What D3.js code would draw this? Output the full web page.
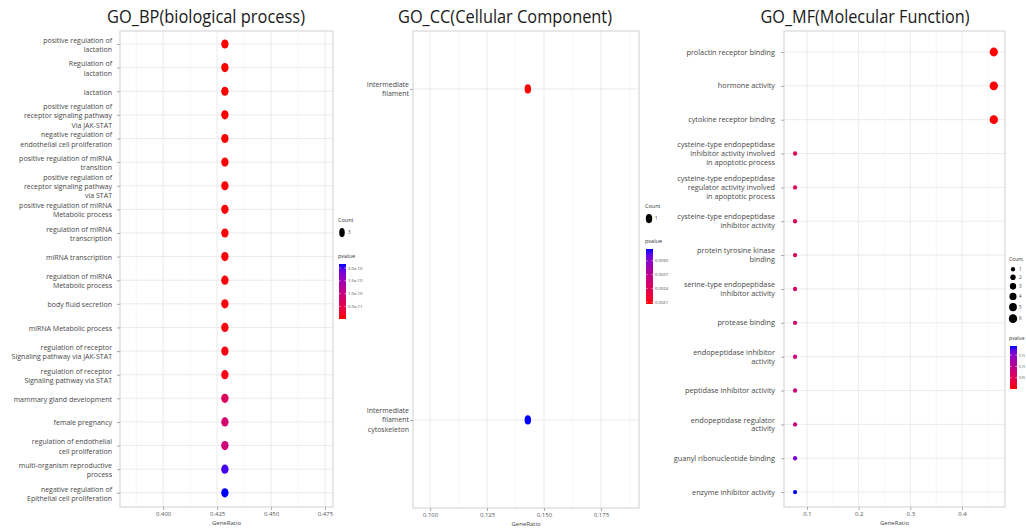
<!DOCTYPE html>
<html>
<head>
<meta charset="utf-8">
<script src="https://cdn.jsdelivr.net/npm/d3@7"></script>
<style>
  html, body { margin: 0; padding: 0; background: #fff; }
  svg { display: block; }
</style>
</head>
<body>
<svg id="chart" width="1026" height="528"></svg>
<script>
// ---------- GO enrichment data ----------
// Biological process
const bpTerms = [
  "positive regulation of\nlactation",
  "Regulation of\nlactation",
  "lactation",
  "positive regulation of\nreceptor signaling pathway\nVia JAK-STAT",
  "negative regulation of\nendothelial cell proliferation",
  "positive regulation of miRNA\ntransition",
  "positive regulation of\nreceptor signaling pathway\nvia STAT",
  "positive regulation of miRNA\nMetabolic process",
  "regulation of miRNA\ntranscription",
  "miRNA transcription",
  "regulation of miRNA\nMetabolic process",
  "body fluid secretion",
  "miRNA Metabolic process",
  "regulation of receptor\nSignaling pathway via JAK-STAT",
  "regulation of receptor\nSignaling pathway via STAT",
  "mammary gland development",
  "female pregnancy",
  "regulation of endothelial\ncell proliferation",
  "multi-organism reproductive\nprocess",
  "negative regulation of\nEpithelial cell proliferation"
];
const bpRatio = [0.4286, 0.4286, 0.4286, 0.4286, 0.4286, 0.4286, 0.4286, 0.4286, 0.4286, 0.4286,
                 0.4286, 0.4286, 0.4286, 0.4286, 0.4286, 0.4286, 0.4286, 0.4286, 0.4286, 0.4286];
const bpCount = [3, 3, 3, 3, 3, 3, 3, 3, 3, 3, 3, 3, 3, 3, 3, 3, 3, 3, 3, 3];
const bpP = [1.0e-12, 1.0e-12, 1.2e-12, 1.8e-12, 2.1e-12, 2.5e-12, 2.9e-12, 3.1e-12, 3.4e-12, 3.9e-12,
             4.4e-12, 5.2e-12, 6.8e-12, 8.5e-12, 9.7e-12, 6.8e-11, 8.4e-11, 9.2e-11, 2.05e-10, 2.16e-10];
const bpXTicks = [0.400, 0.425, 0.450, 0.475];
const bpXMinor = [0.3875, 0.4125, 0.4375, 0.4625];
const bpPTicks = [5e-11, 1e-10, 1.5e-10, 2e-10];
const bpPLabels = ["5.0e-11", "1.0e-10", "1.5e-10", "2.0e-10"];
const bpCountLegend = [3];

// Cellular component
const ccTerms = [
  "Intermediate\nfilament",
  "Intermediate\nfilament\ncytoskeleton"
];
const ccRatio = [0.1429, 0.1429];
const ccCount = [1, 1];
const ccP = [0.00206, 0.00326];
const ccXTicks = [0.100, 0.125, 0.150, 0.175];
const ccXMinor = [0.1125, 0.1375, 0.1625, 0.1875];
const ccPTicks = [0.0021, 0.0024, 0.0027, 0.0030];
const ccPLabels = ["0.0021", "0.0024", "0.0027", "0.0030"];
const ccCountLegend = [1];

// Molecular function
const mfTerms = [
  "prolactin receptor binding",
  "hormone activity",
  "cytokine receptor binding",
  "cysteine-type endopeptidase\ninhibitor activity involved\nin apoptotic process",
  "cysteine-type endopeptidase\nregulator activity involved\nin apoptotic process",
  "cysteine-type endopeptidase\ninhibitor activity",
  "protein tyrosine kinase\nbinding",
  "serine-type endopeptidase\nInhibitor activity",
  "protease binding",
  "endopeptidase inhibitor\nactivity",
  "peptidase inhibitor activity",
  "endopeptidase regulator\nactivity",
  "guanyl ribonucleotide binding",
  "enzyme inhibitor activity"
];
const mfRatio = [0.4615, 0.4615, 0.4615, 0.0769, 0.0769, 0.0769, 0.0769,
                 0.0769, 0.0769, 0.0769, 0.0769, 0.0769, 0.0769, 0.0769];
const mfCount = [6, 6, 6, 1, 1, 1, 1, 1, 1, 1, 1, 1, 1, 1];
const mfP = [0.0005, 0.0008, 0.0012, 0.052, 0.054, 0.055, 0.058,
             0.066, 0.075, 0.078, 0.082, 0.088, 0.160, 0.190];
const mfXTicks = [0.1, 0.2, 0.3, 0.4];
const mfXMinor = [0.15, 0.25, 0.35, 0.45];
const mfPTicks = [0.05, 0.10, 0.15];
const mfPLabels = ["0.05", "0.10", "0.15"];
const mfCountLegend = [1, 2, 3, 4, 5, 6];

// ---------- drawing ----------
const FONT = "'Open Sans', 'Noto Sans', 'DejaVu Sans', sans-serif";
const svg = d3.select("#chart");
const defs = svg.append("defs");

function drawPanel(cfg) {
  const g = svg.append("g");
  const { x0, x1, y0, y1 } = cfg.box;
  const n = cfg.terms.length;

  const x = d3.scaleLinear().domain(cfg.xDomain).range([x0, x1]);
  const y = d3.scaleLinear().domain([-cfg.pad[0], n - 1 + cfg.pad[1]]).range([y0, y1]);
  const pExtent = d3.extent(cfg.p);
  const color = d3.scaleLinear().domain(pExtent).range(["#ff0000", "#0000ff"]).interpolate(d3.interpolateLab);
  const cExtent = d3.extent(cfg.countDomain);
  const r = d3.scaleSqrt().domain(cExtent).range(cfg.rRange);

  // panel background and grid
  g.append("rect").attr("x", x0).attr("y", y0).attr("width", x1 - x0).attr("height", y1 - y0).attr("fill", "#fff");
  g.selectAll(".minor").data(cfg.xMinor).join("line")
    .attr("x1", d => x(d)).attr("x2", d => x(d)).attr("y1", y0).attr("y2", y1)
    .attr("stroke", "#f5f5f5").attr("stroke-width", 0.8);
  g.selectAll(".major").data(cfg.xTicks).join("line")
    .attr("x1", d => x(d)).attr("x2", d => x(d)).attr("y1", y0).attr("y2", y1)
    .attr("stroke", "#ebebeb").attr("stroke-width", 1);
  g.selectAll(".hgrid").data(d3.range(n)).join("line")
    .attr("x1", x0).attr("x2", x1).attr("y1", d => y(d)).attr("y2", d => y(d))
    .attr("stroke", "#ebebeb").attr("stroke-width", 1);
  g.append("rect").attr("x", x0).attr("y", y0).attr("width", x1 - x0).attr("height", y1 - y0)
    .attr("fill", "none").attr("stroke", "#cfcfcf").attr("stroke-width", 1);

  // x axis
  const xAxis = g.append("g").attr("transform", `translate(0,${y1})`)
    .call(d3.axisBottom(x).tickValues(cfg.xTicks).tickFormat(d3.format(cfg.xFormat)).tickSize(3).tickPadding(2));
  xAxis.select(".domain").remove();
  xAxis.selectAll(".tick line").attr("stroke", "#aaa");
  xAxis.selectAll(".tick text").attr("fill", "#555").attr("font-family", FONT).attr("font-size", 6);
  g.append("text").attr("x", (x0 + x1) / 2).attr("y", y1 + 18)
    .attr("text-anchor", "middle").attr("font-family", FONT).attr("font-size", 6).attr("fill", "#444")
    .text("GeneRatio");

  // y axis ticks
  const yAxis = g.append("g").attr("transform", `translate(${x0},0)`)
    .call(d3.axisLeft(y).tickValues(d3.range(n)).tickFormat("").tickSize(3));
  yAxis.select(".domain").remove();
  yAxis.selectAll(".tick line").attr("stroke", "#aaa");

  // multi-line term labels
  const labels = g.selectAll(".term").data(cfg.terms).join("text")
    .attr("text-anchor", "end").attr("font-family", FONT).attr("font-size", cfg.labelSize)
    .attr("fill", "#474747");
  labels.each(function (t, i) {
    const lines = t.split("\n");
    const cy = y(i) + cfg.labelShift;
    d3.select(this).selectAll("tspan").data(lines).join("tspan")
      .attr("x", cfg.labelX)
      .attr("y", (d, k) => cy + (k - (lines.length - 1) / 2) * cfg.lineH + cfg.labelSize * 0.35)
      .text(d => d);
  });

  // dots
  g.selectAll(".dot").data(cfg.terms.map((t, i) => i)).join("ellipse")
    .attr("cx", i => x(cfg.ratio[i])).attr("cy", i => y(i))
    .attr("rx", i => r(cfg.count[i]) * cfg.aspect[0])
    .attr("ry", i => r(cfg.count[i]) * cfg.aspect[1])
    .attr("fill", i => color(cfg.p[i]));

  // title
  g.append("text").attr("x", cfg.titleX).attr("y", 23).attr("text-anchor", "middle")
    .attr("font-family", FONT).attr("font-size", 18).attr("fill", "#1a1a1a")
    .attr("textLength", cfg.titleW).attr("lengthAdjust", "spacingAndGlyphs")
    .text(cfg.title);

  // legend: Count
  const L = cfg.legend;
  g.append("text").attr("x", L.x).attr("y", L.countY).attr("font-family", FONT)
    .attr("font-size", L.titleSize).attr("fill", "#333").text("Count");
  let cy = L.countY + 4;
  cfg.countLegend.forEach((c, k) => {
    const ry = r(c) * L.aspect[1];
    cy += (k === 0 ? ry + 2 : ry + r(cfg.countLegend[k - 1]) * L.aspect[1] + 3);
    g.append("ellipse").attr("cx", L.x + 4).attr("cy", cy)
      .attr("rx", r(c) * L.aspect[0]).attr("ry", ry).attr("fill", "#000");
    g.append("text").attr("x", L.x + 10).attr("y", cy + 1.6).attr("font-family", FONT)
      .attr("font-size", 4.5).attr("fill", "#444").text(c);
  });

  // legend: pvalue colour bar
  g.append("text").attr("x", L.x).attr("y", L.pY).attr("font-family", FONT)
    .attr("font-size", L.titleSize).attr("fill", "#333").text("pvalue");
  const gradId = "grad-" + cfg.id;
  const grad = defs.append("linearGradient").attr("id", gradId)
    .attr("x1", 0).attr("y1", 1).attr("x2", 0).attr("y2", 0);
  d3.range(0, 1.0001, 0.1).forEach(t => {
    grad.append("stop").attr("offset", t)
      .attr("stop-color", color(pExtent[0] + t * (pExtent[1] - pExtent[0])));
  });
  const barTop = L.pY + 6, barBot = barTop + L.barH;
  const bar = d3.scaleLinear().domain(pExtent).range([barBot, barTop]);
  g.append("rect").attr("x", L.x + 1).attr("y", barTop).attr("width", 7).attr("height", L.barH)
    .attr("fill", `url(#${gradId})`);
  cfg.pTicks.forEach((v, k) => {
    g.append("line").attr("x1", L.x + 1).attr("x2", L.x + 2.5).attr("y1", bar(v)).attr("y2", bar(v))
      .attr("stroke", "#fff").attr("stroke-width", 0.6);
    g.append("line").attr("x1", L.x + 6.5).attr("x2", L.x + 8).attr("y1", bar(v)).attr("y2", bar(v))
      .attr("stroke", "#fff").attr("stroke-width", 0.6);
    const lab = g.append("text").attr("x", L.x + 10).attr("y", bar(v) + 1.5).attr("font-family", FONT)
      .attr("font-size", 4.2).attr("fill", "#444").text(cfg.pLabels[k]);
    if (L.labelW) lab.attr("textLength", L.labelW).attr("lengthAdjust", "spacingAndGlyphs");
  });
}

drawPanel({
  id: "bp", title: "GO_BP(biological process)", titleX: 206, titleW: 198,
  terms: bpTerms, ratio: bpRatio, count: bpCount, p: bpP,
  countDomain: bpCount, countLegend: bpCountLegend, rRange: [4.6, 4.6], aspect: [0.8, 1.0],
  xDomain: [0.3800, 0.4787], xTicks: bpXTicks, xMinor: bpXMinor, xFormat: ".3f",
  pTicks: bpPTicks, pLabels: bpPLabels,
  box: { x0: 120, x1: 333, y0: 31, y1: 507 }, pad: [0.55, 0.6],
  labelX: 112, labelSize: 7, lineH: 9.3, labelShift: 1,
  legend: { x: 338, countY: 222, pY: 258, barH: 55, aspect: [0.6, 1.0], titleSize: 5.5 }
});

drawPanel({
  id: "cc", title: "GO_CC(Cellular Component)", titleX: 505, titleW: 214,
  terms: ccTerms, ratio: ccRatio, count: ccCount, p: ccP,
  countDomain: ccCount, countLegend: ccCountLegend, rRange: [4.6, 4.6], aspect: [0.7, 1.0],
  xDomain: [0.0925, 0.1917], xTicks: ccXTicks, xMinor: ccXMinor, xFormat: ".3f",
  pTicks: ccPTicks, pLabels: ccPLabels,
  box: { x0: 413, x1: 639, y0: 31, y1: 508 }, pad: [0.175, 0.266],
  labelX: 409, labelSize: 7, lineH: 9.2, labelShift: 0,
  legend: { x: 645, countY: 208, pY: 243, barH: 55, aspect: [0.7, 1.0], titleSize: 5.5 }
});

drawPanel({
  id: "mf", title: "GO_MF(Molecular Function)", titleX: 865, titleW: 209,
  terms: mfTerms, ratio: mfRatio, count: mfCount, p: mfP,
  countDomain: mfCountLegend, countLegend: mfCountLegend, rRange: [2.2, 4.4], aspect: [0.95, 1.0],
  xDomain: [0.0555, 0.4832], xTicks: mfXTicks, xMinor: mfXMinor, xFormat: ".1f",
  pTicks: mfPTicks, pLabels: mfPLabels,
  box: { x0: 784, x1: 1005, y0: 31, y1: 507 }, pad: [0.62, 0.44],
  labelX: 775, labelSize: 7.3, lineH: 8.8, labelShift: 0,
  legend: { x: 1009, countY: 261, pY: 340, barH: 43, aspect: [0.95, 1.0], titleSize: 5, labelW: 6 }
});
</script>
</body>
</html>
